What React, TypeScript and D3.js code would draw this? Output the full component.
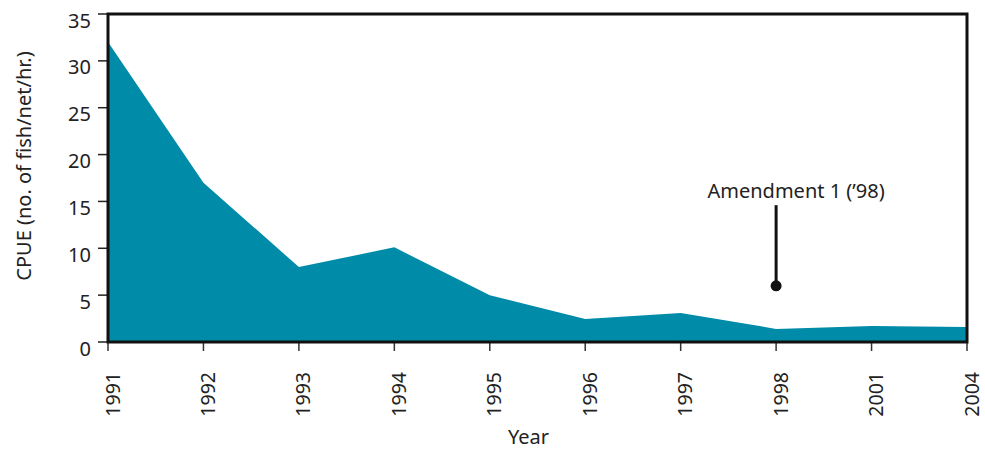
import React from 'react';
import * as d3 from 'd3';

const years = ['1991', '1992', '1993', '1994', '1995', '1996', '1997', '1998', '2001', '2004'];
const cpue = [32.0, 17.0, 8.0, 10.1, 5.0, 2.45, 3.1, 1.4, 1.7, 1.6];
const yTicks = [0, 5, 10, 15, 20, 25, 30, 35];
const noteYear = '1998';
const noteLabel = 'Amendment 1 (\u201998)';
const noteTop = 14.6;
const noteDot = 6.0;

const font = '"Noto Sans", "Open Sans", sans-serif';

export default function App() {
  const width = 985, height = 451;
  const margin = { top: 14, right: 18, bottom: 109, left: 108 };
  const w = width - margin.left - margin.right;
  const h = height - margin.top - margin.bottom;

  const x = d3.scalePoint<string>().domain(years).range([0, w]);
  const y = d3.scaleLinear().domain([0, 35]).range([h, 0]);

  const area = d3.area<number>()
    .x((d, i) => x(years[i]) as number)
    .y0(h)
    .y1((d) => y(d));

  const nx = x(noteYear) as number;

  return (
    <svg width={width} height={height} style={{ position: 'absolute', left: 0, top: 0 }} fontFamily={font}>
      <g transform={`translate(${margin.left},${margin.top})`}>
        <path d={area(cpue) || ''} fill="#008ba8" />

        {/* y ticks */}
        {yTicks.map((t) => (
          <g key={t}>
            <line x1={-10} x2={0} y1={y(t)} y2={y(t)} stroke="#222" strokeWidth={1.5} />
            <text x={-17} y={y(t) + 6} textAnchor="end" dominantBaseline="central" fontSize={20} fill="#222">{t}</text>
          </g>
        ))}

        {/* x ticks */}
        {years.map((yr) => (
          <g key={yr}>
            <line x1={x(yr)} x2={x(yr)} y1={h} y2={h + 9} stroke="#333" strokeWidth={1.5} />
            <text transform={`translate(${(x(yr) as number) + 4},${h + 30}) rotate(-90)`} textAnchor="end" dominantBaseline="central" fontSize={19.5} fill="#222">{yr}</text>
          </g>
        ))}

        {/* frame */}
        <rect x={0} y={0} width={w} height={h} fill="none" stroke="#111" strokeWidth={3} />

        {/* annotation */}
        <line x1={nx} x2={nx} y1={y(noteTop)} y2={y(noteDot)} stroke="#111" strokeWidth={3} />
        <circle cx={nx} cy={y(noteDot)} r={5.5} fill="#111" />
        <text x={nx + 20} y={y(noteTop) - 7} textAnchor="middle" fontSize={20} fill="#222">{noteLabel}</text>

        <text x={w / 2 - 9} y={h + 102} textAnchor="middle" fontSize={20} fill="#222">Year</text>
      </g>
      <text transform={`translate(23,166) rotate(-90)`} textAnchor="middle" dominantBaseline="central" fontSize={20} fill="#222">CPUE (no. of fish/net/hr.)</text>
    </svg>
  );
}
